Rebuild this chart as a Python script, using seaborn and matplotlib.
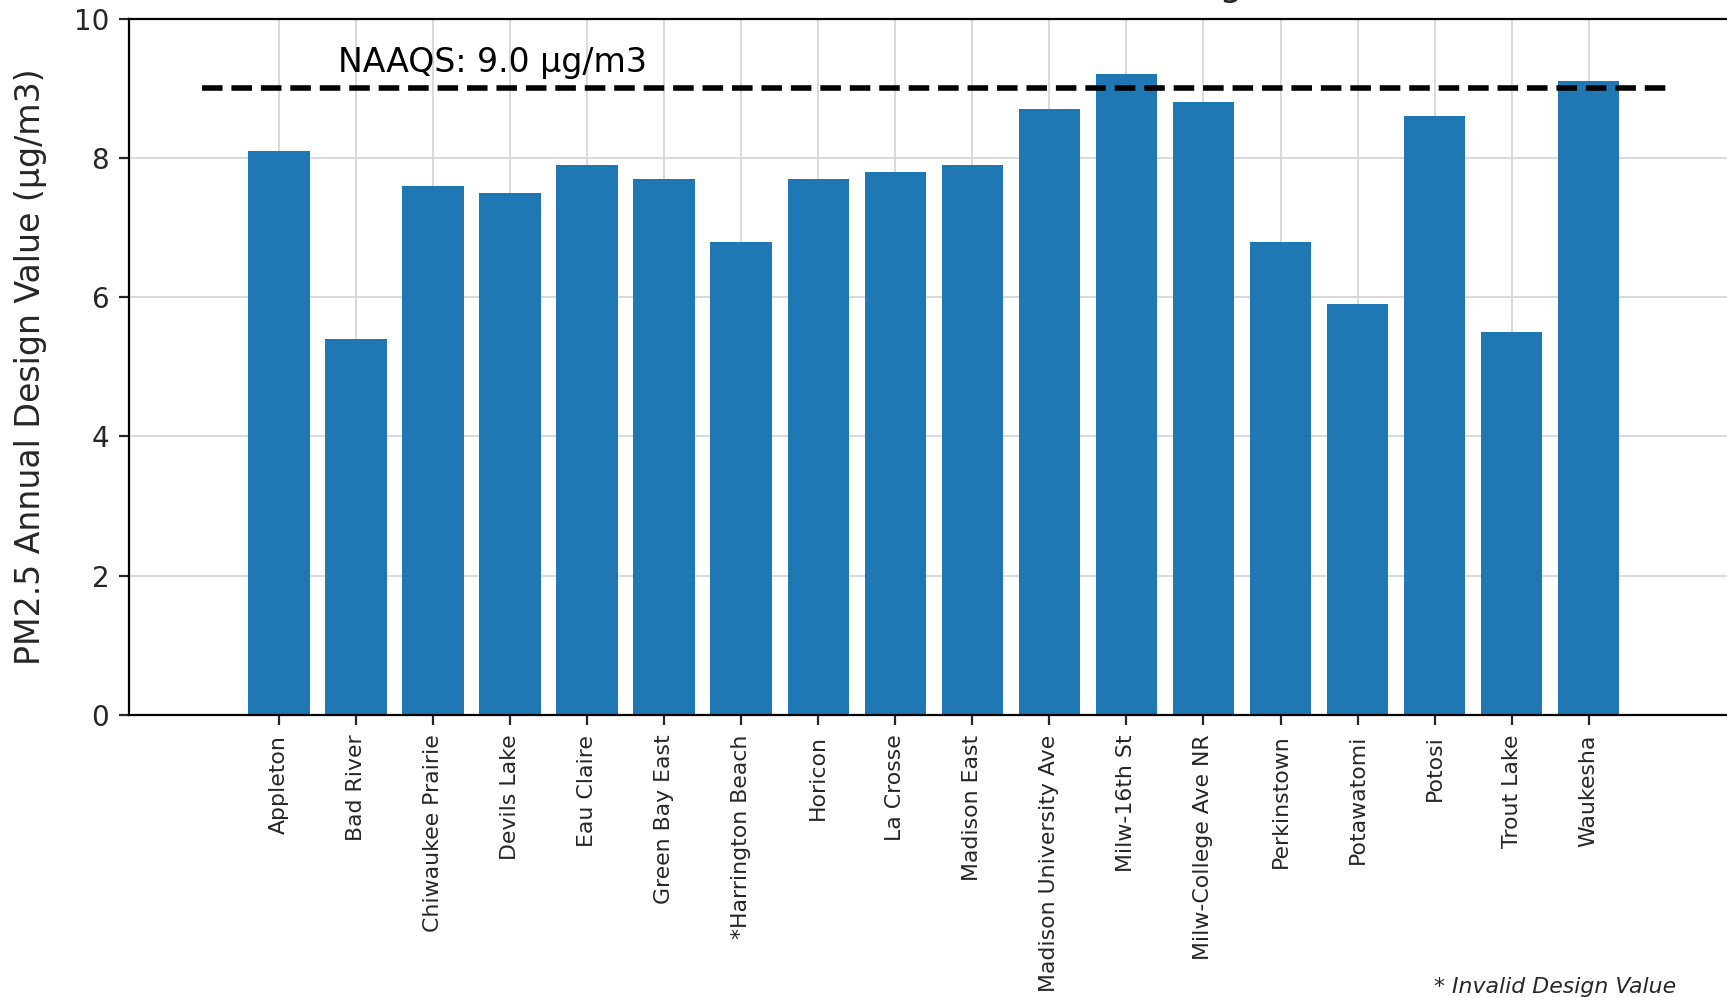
import matplotlib
matplotlib.use("Agg")
import matplotlib.pyplot as plt
import seaborn as sns
import pandas as pd

# Monitoring sites and their PM2.5 annual design values (µg/m3)
sites = [
    "Appleton", "Bad River", "Chiwaukee Prairie", "Devils Lake", "Eau Claire",
    "Green Bay East", "*Harrington Beach", "Horicon", "La Crosse", "Madison East",
    "Madison University Ave", "Milw-16th St", "Milw-College Ave NR", "Perkinstown",
    "Potawatomi", "Potosi", "Trout Lake", "Waukesha",
]
design_values = [
    8.1, 5.4, 7.6, 7.5, 7.9,
    7.7, 6.8, 7.7, 7.8, 7.9,
    8.7, 9.2, 8.8, 6.8,
    5.9, 8.6, 5.5, 9.1,
]
naaqs_level = 9.0
y_ticks = [0, 2, 4, 6, 8, 10]

title_text = "2022-2024 Wisconsin PM2.5 Annual Design Values"
naaqs_label = "NAAQS: 9.0 µg/m3"
y_label = "PM2.5 Annual Design Value (µg/m3)"
footnote = "* Invalid Design Value"

sns.set_style("ticks")
plt.rcParams["font.family"] = ["DejaVu Sans"]

df = pd.DataFrame({"site": sites, "value": design_values})

W, H = 1727, 997
fig = plt.figure(figsize=(W / 100, H / 100), dpi=100)
ax = fig.add_axes([128.9 / W, 282 / H, 1613.8 / W, 696.3 / H])

sns.barplot(data=df, x="site", y="value", color="#1f77b4", saturation=1,
            width=0.8, linewidth=0, ax=ax, zorder=2)

# NAAQS threshold
ax.hlines(naaqs_level, -1, len(sites), colors="black", linestyles="--",
          linewidth=4, zorder=3)
ax.text(0.76, 9.23, naaqs_label, fontsize=23.85, ha="left", va="baseline",
        color="black", zorder=4)

ax.set_xlim(-1.95, 19.0)
ax.set_ylim(0, 10)
ax.set_yticks(y_ticks)

ax.set_axisbelow(True)
ax.grid(True, axis="both", color="#d3d3d3", linewidth=1.2, zorder=0)

ax.set_xlabel("")
ax.set_ylabel(y_label, fontsize=23.85)
ax.yaxis.set_label_coords(-0.0509, 0.5)

ax.tick_params(axis="x", labelsize=15.8, rotation=90, length=7.2, width=1.6, pad=7)
ax.tick_params(axis="y", labelsize=20, length=7.2, width=1.6, pad=7)

for side in ["left", "bottom", "top", "right"]:
    ax.spines[side].set_linewidth(1.6)
    ax.spines[side].set_color("black")
    ax.spines[side].set_visible(True)

ax.set_title(title_text, fontsize=26.2, pad=0, y=1.032, fontweight="normal")

fig.text(1676 / W, 4 / H, footnote, fontsize=15.8, style="italic",
         ha="right", va="baseline")

fig.savefig("out.png", dpi=100)
